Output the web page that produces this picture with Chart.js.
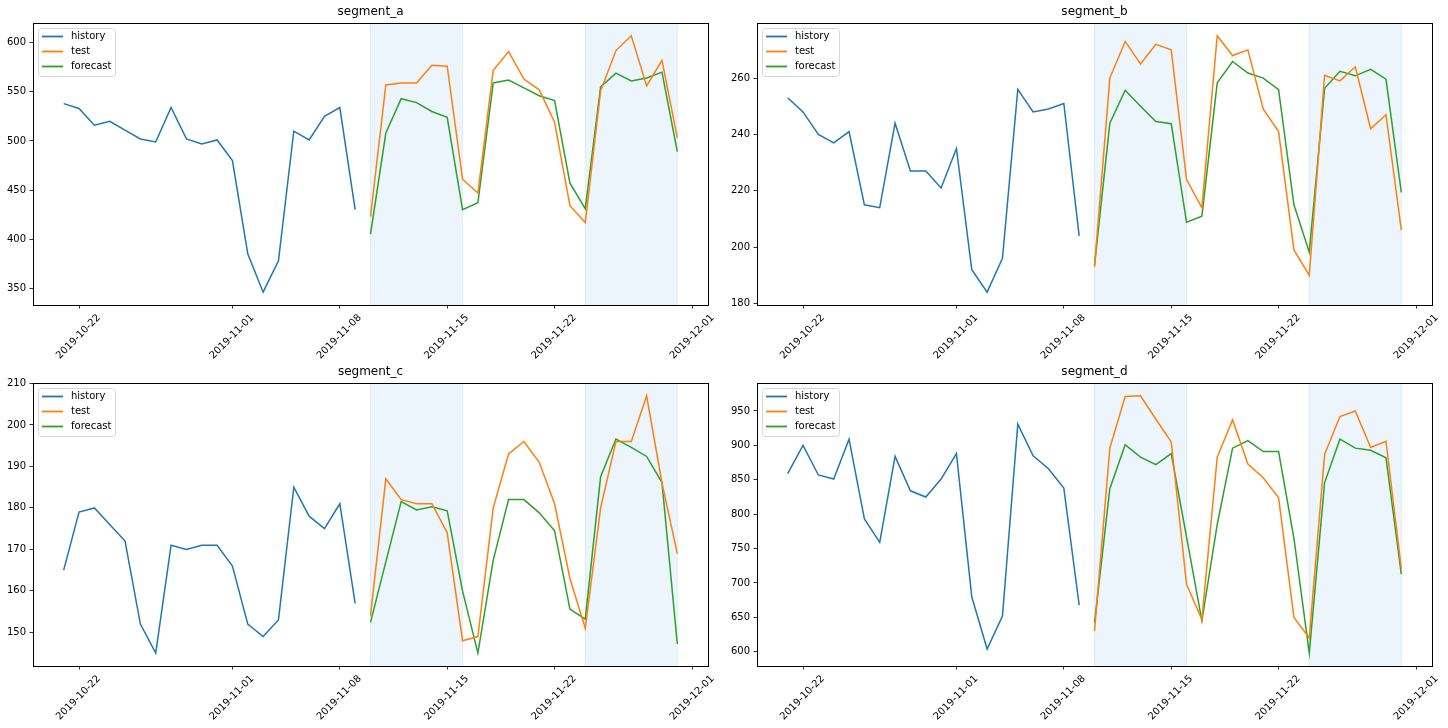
<!DOCTYPE html>
<html>
<head>
<meta charset="utf-8">
<script src="https://cdn.jsdelivr.net/npm/chart.js@4.4.0/dist/chart.umd.min.js"></script>
<style>
  html, body { margin: 0; padding: 0; background: #fff; }
  #wrap { position: relative; width: 1448px; height: 728px; overflow: hidden; }
  canvas { position: absolute; }
</style>
</head>
<body>
<div id="wrap">
  <canvas id="segA" width="720" height="364" style="left:0;top:0"></canvas>
  <canvas id="segB" width="728" height="364" style="left:720px;top:0"></canvas>
  <canvas id="segC" width="720" height="368" style="left:0;top:360px"></canvas>
  <canvas id="segD" width="728" height="368" style="left:720px;top:360px"></canvas>
</div>
<script>
// dates
const historyDates = [
  '2019-10-21', '2019-10-22', '2019-10-23', '2019-10-24', '2019-10-25',
  '2019-10-26', '2019-10-27', '2019-10-28', '2019-10-29', '2019-10-30',
  '2019-10-31', '2019-11-01', '2019-11-02', '2019-11-03', '2019-11-04',
  '2019-11-05', '2019-11-06', '2019-11-07', '2019-11-08', '2019-11-09',
];
const testDates = [
  '2019-11-10', '2019-11-11', '2019-11-12', '2019-11-13', '2019-11-14',
  '2019-11-15', '2019-11-16', '2019-11-17', '2019-11-18', '2019-11-19',
  '2019-11-20', '2019-11-21', '2019-11-22', '2019-11-23', '2019-11-24',
  '2019-11-25', '2019-11-26', '2019-11-27', '2019-11-28', '2019-11-29',
  '2019-11-30',
];
const shadedSpans = [['2019-11-10', '2019-11-16'], ['2019-11-24', '2019-11-30']];
const xTickLabels = ['2019-10-22', '2019-11-01', '2019-11-08', '2019-11-15', '2019-11-22', '2019-12-01'];
const seriesNames = ['history', 'test', 'forecast'];
const seriesColors = ['#1f77b4', '#ff7f0e', '#2ca02c'];

// segment_a
const aHistory = [538, 533, 516, 520, 511, 502, 499, 534, 502, 497, 501, 480, 385, 346, 378, 510, 501, 525, 534, 430];
const aTest = [423, 557, 559, 559, 577, 576, 461, 447, 572, 591, 563, 552, 519, 434, 417, 551, 592, 607, 556, 582, 503];
const aForecast = [405, 508, 543, 539, 530, 524, 430, 437, 559, 562, 554, 546, 541, 457, 431, 555, 569, 561, 564, 570, 489];
const aTicks = [350, 400, 450, 500, 550, 600];

// segment_b
const bHistory = [253, 248, 240, 237, 241, 215, 214, 244, 227, 227, 221, 235, 192, 184, 196, 256, 248, 249, 251, 204];
const bTest = [193, 260, 273, 265, 272, 270, 224, 214, 275, 268, 270, 249, 241, 199, 190, 261, 259, 264, 242, 247, 206];
const bForecast = [193.5, 244, 255.7, 250, 244.6, 243.8, 208.8, 211, 258.3, 265.9, 261.8, 260, 255.9, 215, 198.2, 256.4, 262.4, 260.8, 263.1, 259.6, 219.4];
const bTicks = [180, 200, 220, 240, 260];

// segment_c
const cHistory = [165, 179, 180, 176, 172, 152, 145, 171, 170, 171, 171, 166, 152, 149, 153, 185, 178, 175, 181, 157];
const cTest = [154, 187, 182, 181, 181, 174, 148, 149, 180, 193, 196, 191, 181, 163, 151, 180, 196, 196, 207, 186, 169];
const cForecast = [152.4, 167, 181.5, 179.5, 180.3, 179.3, 160, 145, 167.4, 182, 182, 178.8, 174.5, 155.6, 153.2, 187.5, 196.6, 194.6, 192.4, 186.1, 147.2];
const cTicks = [150, 160, 170, 180, 190, 200, 210];

// segment_d
const dHistory = [859, 900, 857, 851, 909, 793, 759, 884, 834, 825, 851, 888, 680, 604, 652, 931, 885, 866, 838, 668];
const dTest = [630, 896, 971, 972, 938, 905, 698, 647, 883, 937, 873, 853, 824, 650, 620, 887, 942, 950, 897, 906, 721];
const dForecast = [642, 837, 901, 883, 872, 888, 767, 645, 785, 896, 907, 891, 891, 765, 598, 846, 909, 896, 893, 882, 713];
const dTicks = [600, 650, 700, 750, 800, 850, 900, 950];

const FONT_FAMILY = '"DejaVu Sans", sans-serif';
const SPAN_FILL = '#ecf5fb';
const SPAN_EDGE = 'rgba(31,119,180,0.10)';
const DAY_MS = 86400000;

const toDay = (s) => Date.parse(s + 'T00:00:00Z') / DAY_MS;
const pairs = (dates, values) => dates.map((d, i) => ({ x: toDay(d), y: values[i] }));

function paddedRange(values) {
  const lo = Math.min(...values);
  const hi = Math.max(...values);
  const pad = (hi - lo) * 0.05;
  return [lo - pad, hi + pad];
}

const [xMin, xMax] = paddedRange(historyDates.concat(testDates).map(toDay));

// chart area of each panel, in its own canvas pixels
const panels = [
  { id: 'segA', title: 'segment_a', history: aHistory, test: aTest, forecast: aForecast, yTicks: aTicks, area: { left: 33, top: 23, right: 708, bottom: 305 } },
  { id: 'segB', title: 'segment_b', history: bHistory, test: bTest, forecast: bForecast, yTicks: bTicks, area: { left: 37, top: 23, right: 712, bottom: 305 } },
  { id: 'segC', title: 'segment_c', history: cHistory, test: cTest, forecast: cForecast, yTicks: cTicks, area: { left: 33, top: 23, right: 708, bottom: 306 } },
  { id: 'segD', title: 'segment_d', history: dHistory, test: dTest, forecast: dForecast, yTicks: dTicks, area: { left: 37, top: 23, right: 712, bottom: 306 } },
];

const spanPlugin = {
  id: 'spans',
  beforeDatasetsDraw(chart) {
    const { ctx, chartArea: a, scales: { x } } = chart;
    ctx.save();
    ctx.beginPath();
    ctx.rect(a.left, a.top, a.width, a.height);
    ctx.clip();
    shadedSpans.forEach(([s, e]) => {
      const x0 = x.getPixelForValue(toDay(s));
      const x1 = x.getPixelForValue(toDay(e));
      ctx.fillStyle = SPAN_FILL;
      ctx.fillRect(x0, a.top, x1 - x0, a.height);
      ctx.strokeStyle = SPAN_EDGE;
      ctx.lineWidth = 1;
      ctx.strokeRect(x0, a.top - 2, x1 - x0, a.height + 4);
    });
    ctx.restore();
  },
};

const framePlugin = {
  id: 'frame',
  afterDatasetsDraw(chart) {
    const { ctx, chartArea: a } = chart;
    ctx.save();
    ctx.strokeStyle = '#000';
    ctx.lineWidth = 1;
    ctx.strokeRect(Math.round(a.left) + 0.5, Math.round(a.top) + 0.5, Math.round(a.width), Math.round(a.height));
    ctx.restore();
  },
};

const legendPlugin = {
  id: 'boxLegend',
  afterDraw(chart) {
    const { ctx, chartArea: a } = chart;
    ctx.save();
    ctx.font = `10px ${FONT_FAMILY}`;
    const textW = Math.max(...seriesNames.map((n) => ctx.measureText(n).width));
    const bx = Math.round(a.left) + 5;
    const by = Math.round(a.top) + 5;
    const bw = Math.round(32 + textW + 5);
    const bh = 48;
    ctx.beginPath();
    if (ctx.roundRect) ctx.roundRect(bx + 0.5, by + 0.5, bw, bh, 3);
    else ctx.rect(bx + 0.5, by + 0.5, bw, bh);
    ctx.fillStyle = 'rgba(255,255,255,0.8)';
    ctx.fill();
    ctx.strokeStyle = '#d6d6d6';
    ctx.lineWidth = 1;
    ctx.stroke();
    seriesNames.forEach((name, i) => {
      const cy = by + 8.5 + i * 15;
      ctx.strokeStyle = seriesColors[i];
      ctx.lineWidth = 1.8;
      ctx.beginPath();
      ctx.moveTo(bx + 4, cy);
      ctx.lineTo(bx + 25, cy);
      ctx.stroke();
      ctx.fillStyle = '#000';
      ctx.textBaseline = 'middle';
      ctx.textAlign = 'left';
      ctx.fillText(name, bx + 33, cy);
    });
    ctx.restore();
  },
};

function lineSet(label, dates, values, color) {
  return {
    label,
    data: pairs(dates, values),
    borderColor: color,
    backgroundColor: color,
    borderWidth: 1.5,
    pointRadius: 0,
    tension: 0,
    fill: false,
  };
}

panels.forEach((p) => {
  const canvas = document.getElementById(p.id);
  const [yMin, yMax] = paddedRange(p.history.concat(p.test, p.forecast));
  const tickFont = { family: FONT_FAMILY, size: 10 };
  const tickGrid = { drawOnChartArea: false, drawTicks: true, tickLength: 3.5, color: '#000', lineWidth: 0.8 };

  new Chart(canvas.getContext('2d'), {
    type: 'line',
    data: {
      datasets: [
        lineSet(seriesNames[0], historyDates, p.history, seriesColors[0]),
        lineSet(seriesNames[1], testDates, p.test, seriesColors[1]),
        lineSet(seriesNames[2], testDates, p.forecast, seriesColors[2]),
      ],
    },
    options: {
      responsive: false,
      animation: false,
      devicePixelRatio: 1,
      events: [],
      layout: { padding: { left: 0, top: 0, right: canvas.width - p.area.right, bottom: 0 } },
      plugins: {
        legend: { display: false },
        tooltip: { enabled: false },
        title: {
          display: true,
          fullSize: false,
          text: p.title,
          color: '#000',
          font: { family: FONT_FAMILY, size: 12, weight: 'normal', lineHeight: 1.2 },
          padding: { top: p.area.top - 14.4 - 4, bottom: 4 },
        },
      },
      scales: {
        x: {
          type: 'linear',
          min: xMin,
          max: xMax,
          afterBuildTicks(scale) {
            scale.ticks = xTickLabels.map((d) => ({ value: toDay(d) }));
          },
          afterFit(scale) {
            scale.height = canvas.height - p.area.bottom;
          },
          ticks: {
            autoSkip: false,
            minRotation: 45,
            maxRotation: 45,
            labelOffset: 20,
            padding: 3.5,
            color: '#000',
            font: tickFont,
            callback: (v, i) => xTickLabels[i],
          },
          grid: tickGrid,
          border: { display: false },
        },
        y: {
          type: 'linear',
          min: yMin,
          max: yMax,
          afterBuildTicks(scale) {
            scale.ticks = p.yTicks.map((v) => ({ value: v }));
          },
          afterFit(scale) {
            scale.width = p.area.left;
          },
          ticks: {
            padding: 3.5,
            color: '#000',
            font: tickFont,
            callback: (v) => String(v),
          },
          grid: tickGrid,
          border: { display: false },
        },
      },
    },
    plugins: [spanPlugin, framePlugin, legendPlugin],
  });
});
</script>
</body>
</html>
